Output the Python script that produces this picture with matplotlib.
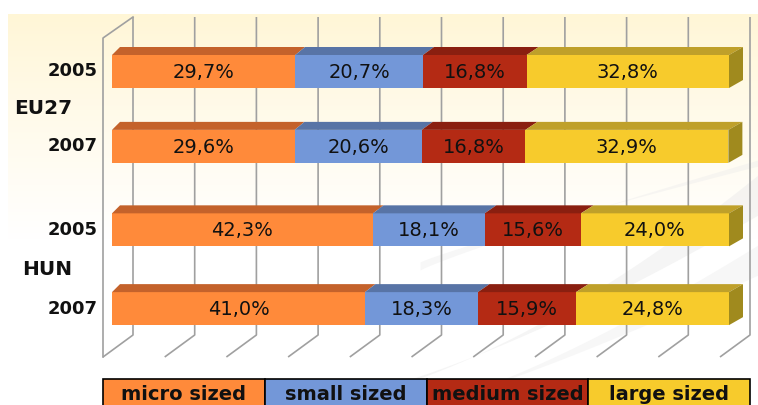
import matplotlib
matplotlib.use('Agg')
import matplotlib.pyplot as plt
import numpy as np
from matplotlib.patches import Polygon, Rectangle

# ---------------- data ----------------
years = ['2005', '2007', '2005', '2007']
group_names = ['EU27', 'HUN']
categories = ['micro sized', 'small sized', 'medium sized', 'large sized']
micro = [29.7, 29.6, 42.3, 41.0]
small = [20.7, 20.6, 18.1, 18.3]
medium = [16.8, 16.8, 15.6, 15.9]
large = [32.8, 32.9, 24.0, 24.8]

# ---------------- style ----------------
front_colors = ['#FF8A3A', '#7397D8', '#B42A14', '#F7CB2C']
top_colors = ['#C4622B', '#5874A6', '#8A1F10', '#BFA02A']
side_color = '#A08A1E'
grid_color = '#A0A0A0'

W, H = 758, 405
fig = plt.figure(figsize=(W / 100, H / 100), dpi=100)
ax = fig.add_axes([0, 0, 1, 1])
S = 6.17      # pixels per percent
X0 = 112      # pixel column of 0 %
UY = 78       # pixels per row unit
Y0 = 71.5     # pixel row of first bar centre
ax.set_xlim(-X0 / S, (W - X0) / S)
ax.set_ylim((H - Y0) / UY, -Y0 / UY)
ax.axis('off')


def px(x):
    return (x - X0) / S


def py(y):
    return (y - Y0) / UY


# ---------------- background ----------------
t = np.linspace(0, 1, 200) ** 0.9
c_top = np.array([255, 246, 214]) / 255.0
img = c_top[None, None, :] + (1 - c_top[None, None, :]) * t[:, None, None]
ax.imshow(img, extent=(px(8), px(758), py(240), py(14)), aspect='auto',
          zorder=0, interpolation='bilinear')

# faint swooshes
xs = np.linspace(px(300), px(758), 200)
u = (xs - xs[0]) / (xs[-1] - xs[0])
ax.fill_between(xs, py(405 - 230 * u ** 1.6), py(405 - 190 * u ** 1.4),
                color='#E9E9E9', alpha=0.45, zorder=0.5, lw=0)
xs2 = np.linspace(px(420), px(758), 200)
u2 = (xs2 - xs2[0]) / (xs2[-1] - xs2[0])
ax.fill_between(xs2, py(405 - 160 * u2 ** 1.3), py(405 - 130 * u2 ** 1.2),
                color='#EEEEEE', alpha=0.45, zorder=0.5, lw=0)
xs3 = np.linspace(px(420), px(758), 200)
u3 = (xs3 - xs3[0]) / (xs3[-1] - xs3[0])
ax.fill_between(xs3, py(270 - 110 * u3 ** 0.9), py(262 - 96 * u3 ** 0.9),
                color='#EBEBEB', alpha=0.4, zorder=0.5, lw=0)

# ---------------- walls / gridlines ----------------
back_shift = (133 - X0) / S
depth_x = 30 / S
for v in range(0, 101, 10):
    xb = v + back_shift
    ax.plot([xb, xb, xb - depth_x], [py(17), py(335), py(357)],
            color=grid_color, lw=1.2, zorder=1, solid_capstyle='butt')
ax.plot([px(103), px(103), px(133)], [py(357), py(38), py(17)],
        color=grid_color, lw=1.2, zorder=1)

# ---------------- bars ----------------
series = [micro, small, medium, large]
pos = np.array([0.0, 0.96, 2.03, 3.04])
h = 33 / UY
dy = -8 / UY


def ddx(x):
    # oblique depth grows slightly to the right (perspective)
    return (8 + 6 * x / 100) / S


left = np.zeros(len(pos))
for i, vals in enumerate(series):
    vals = np.array(vals)
    ax.barh(pos, vals, left=left, height=h, color=front_colors[i],
            linewidth=0, zorder=3)
    for j in range(len(pos)):
        l = left[j]
        r = l + vals[j]
        tp = pos[j] - h / 2
        bt = pos[j] + h / 2
        ax.add_patch(Polygon([(l, tp), (r, tp), (r + ddx(r), tp + dy), (l + ddx(l), tp + dy)],
                             closed=True, fc=top_colors[i], ec='none', zorder=3))
        if i == len(series) - 1:
            ax.add_patch(Polygon([(r, tp), (r + ddx(r), tp + dy), (r + ddx(r), bt + dy), (r, bt)],
                                 closed=True, fc=side_color, ec='none', zorder=3))
        lab = f"{vals[j]:.1f}".replace('.', ',') + '%'
        ax.text(l + vals[j] / 2, pos[j] + 0.01, lab, ha='center', va='center',
                fontsize=14, family='DejaVu Sans', color='#111111', zorder=4)
    left = left + vals

# ---------------- axis labels ----------------
for j, yr in enumerate(years):
    ax.text(px(98), pos[j], yr, ha='right', va='center', fontsize=13,
            fontweight='bold', family='DejaVu Sans', color='#111111')
for g, name in enumerate(group_names):
    ax.text(px(72), pos[2 * g:2 * g + 2].mean(), name, ha='right', va='center',
            fontsize=14.5, fontweight='bold', family='DejaVu Sans', color='#111111')

# ---------------- legend ----------------
lx0, lx1 = px(103), px(750)
wbox = (lx1 - lx0) / len(categories)
for k, name in enumerate(categories):
    ax.add_patch(Rectangle((lx0 + k * wbox, py(379)), wbox, py(415) - py(379),
                           fc=front_colors[k], ec='black', lw=1.2, zorder=5,
                           clip_on=False))
    ax.text(lx0 + (k + 0.5) * wbox, py(395), name, ha='center', va='center',
            fontsize=14, fontweight='bold', family='DejaVu Sans', color='#111111',
            zorder=6)

fig.savefig('out.png', dpi=100)
